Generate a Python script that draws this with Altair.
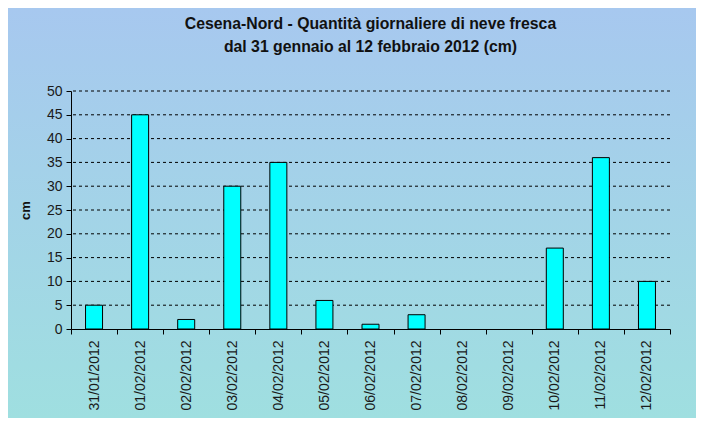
import altair as alt
import pandas as pd

dates = ["31/01/2012", "01/02/2012", "02/02/2012", "03/02/2012", "04/02/2012",
         "05/02/2012", "06/02/2012", "07/02/2012", "08/02/2012", "09/02/2012",
         "10/02/2012", "11/02/2012", "12/02/2012"]
snow_cm = [5, 45, 2, 30, 35, 6, 1, 3, 0, 0, 17, 36, 10]
y_ticks = [0, 5, 10, 15, 20, 25, 30, 35, 40, 45, 50]

df = pd.DataFrame({"data": dates, "cm": snow_cm})
grid_df = pd.DataFrame({"cm": y_ticks[1:]})

W, H = 599, 238
PL, PT, PR, PB = 63, 83, 26, 89

y_scale = alt.Scale(domain=[0, 50], nice=False)
y_axis = alt.Axis(values=y_ticks, labelFontSize=14, labelOverlap=False,
                  labelColor="#1a1a1a", labelFont="Liberation Sans",
                  tickSize=5, tickColor="#000000", domainColor="#000000",
                  grid=False, labelPadding=4, zindex=2,
                  titleFont="Liberation Sans", titleFontSize=13,
                  titleFontWeight="bold", titleColor="#111111",
                  titlePadding=14)

bg = alt.Chart(pd.DataFrame({"k": [0]})).mark_rect(
    fill={"gradient": "linear", "x1": 0, "y1": 0, "x2": 0, "y2": 1,
          "stops": [{"offset": 0, "color": "#a7c8ef"},
                    {"offset": 1, "color": "#9fdfe0"}]},
    strokeWidth=0,
).encode(
    x=alt.value(-PL), x2=alt.value(W + PR),
    y=alt.value(-PT), y2=alt.value(H + PB),
)

grid = alt.Chart(grid_df).mark_rule(
    color="#000000", strokeDash=[3, 3], strokeWidth=1
).encode(y=alt.Y("cm:Q", title="cm", scale=y_scale, axis=y_axis))

bars = alt.Chart(df).mark_bar(
    color="#00ffff", stroke="#000000", strokeWidth=1, width=17
).encode(
    x=alt.X("data:N", sort=dates, title=None,
            scale=alt.Scale(paddingInner=0, paddingOuter=0),
            axis=alt.Axis(labelAngle=-90, labelAlign="right", labelBaseline="middle",
                          labelFontSize=14, labelColor="#1a1a1a", labelFont="Liberation Sans",
                          labelPadding=6, tickBand="extent", tickSize=5,
                          tickColor="#000000", domainColor="#000000", grid=False,
                          zindex=2)),
    y=alt.Y("cm:Q", title="cm", scale=y_scale, axis=y_axis),
    strokeOpacity=alt.condition(alt.datum.cm > 0, alt.value(1), alt.value(0)),
)

chart = alt.layer(bg, grid, bars).properties(
    width=W, height=H,
    title=alt.Title(
        ["Cesena-Nord - Quantità giornaliere di neve fresca",
         "dal 31 gennaio al 12 febbraio 2012 (cm)"],
        font="Liberation Sans", fontSize=15.8, fontWeight="bold", color="#111111",
        lineHeight=23, anchor="middle", frame="group", offset=-48),
    autosize=alt.AutoSizeParams(type="none"),
    padding={"left": PL, "top": PT, "right": PR, "bottom": PB},
).configure_view(stroke=None).configure(background="#a3d3e8")

chart.save("out.html", embed_options={"renderer": "svg", "actions": False})
